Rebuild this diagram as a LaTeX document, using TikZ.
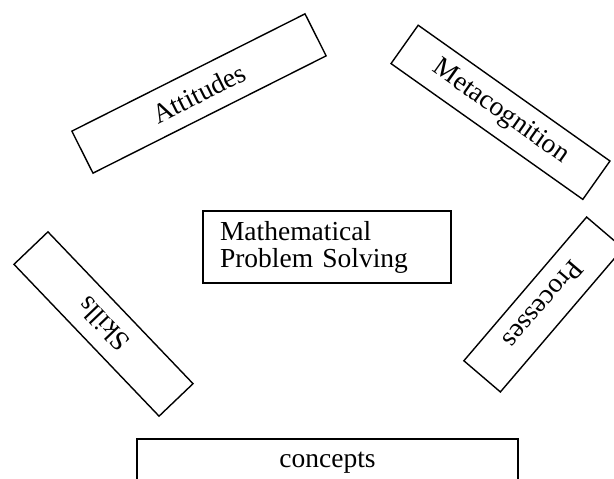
\documentclass[tikz,border=0pt]{standalone}
\usepackage{fontspec}
\setmainfont{Liberation Serif}
\usepackage{tikz}

\begin{document}
\begin{tikzpicture}[x=1pt,y=-1pt,
  factor/.style={draw,line width=1.4pt,inner sep=0pt,minimum height=47pt,
    font=\fontsize{27.5}{27.5}\selectfont}]
%frame
\clip (0,0) rectangle (614,479);

%centre box
\node[factor,minimum width=248pt,minimum height=72pt,align=left,
  text width=214pt,font=\fontsize{27.5}{27}\selectfont] (mps) at (327,247)
  {Mathematical\\Problem Solving};

%the five factors
\node[factor,minimum width=261pt,rotate=26.7] (attitudes) at (199,93.5) {Attitudes};
\node[factor,minimum width=235pt,rotate=-35.3] (metacog) at (500.5,112.3) {Metacognition};
\node[factor,minimum width=210pt,rotate=133.7] (skills) at (103.5,324) {Skills};
\node[factor,minimum width=189pt,minimum height=48pt,rotate=-130.5] (processes) at (543.5,304.5) {Processes};
\node[factor,minimum width=381pt,minimum height=48pt] (concepts) at (327.5,463) {concepts};
\end{tikzpicture}
\end{document}
